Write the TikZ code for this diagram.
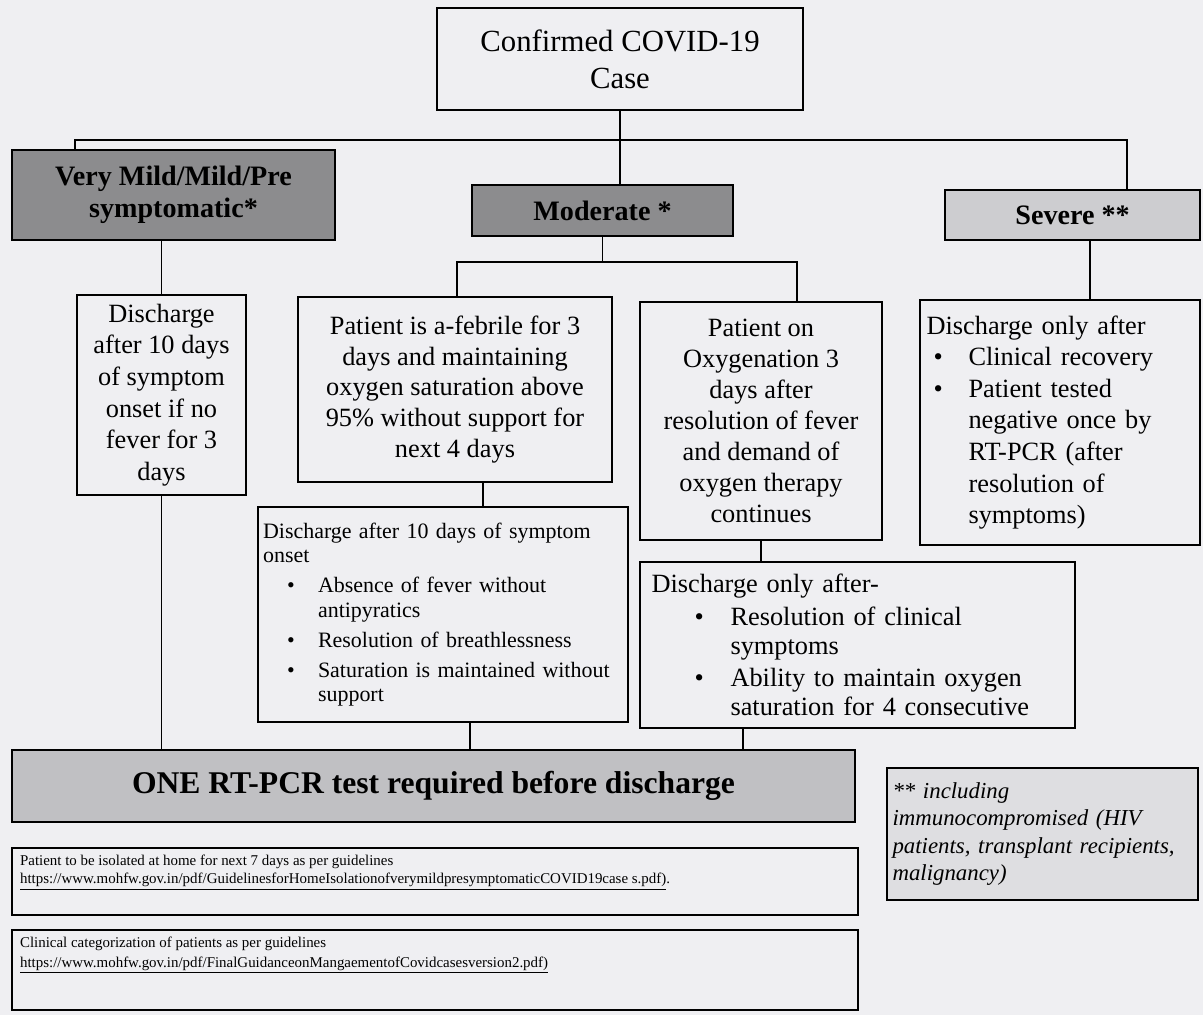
\documentclass[tikz,border=0pt]{standalone}
\usepackage{fontspec}
\setmainfont{Liberation Serif}
\usetikzlibrary{calc}
\definecolor{paper}{RGB}{239,239,242}
\definecolor{darkfill}{RGB}{140,140,142}
\definecolor{sevfill}{RGB}{205,205,208}
\definecolor{pcrfill}{RGB}{192,192,195}
\definecolor{notefill}{RGB}{222,222,225}
\tikzset{
  box/.style={draw, line width=1.3pt, inner sep=0pt, align=center, font=\fontsize{15}{17.6}\selectfont},
  headbox/.style={box, font=\bfseries\fontsize{16}{18.5}\selectfont},
  conn/.style={line width=0.7pt}
}
\def\bpt#1#2{\hspace*{#1}\makebox[#2][l]{\textbullet}}

\begin{document}
\begin{tikzpicture}[x=0.02cm, y=-0.02cm]
			%%%%% START %%%%%
			\useasboundingbox (0,0) rectangle (1203,1015);
			\fill[paper] (0,0) rectangle (1203,1015);
			
			% top
			\node[box, minimum width=7.32cm, minimum height=2.04cm, font=\fontsize{17.5}{21}\selectfont] (top) at (620,59) {Confirmed COVID-19\\Case};
			
			% categories
			\node[headbox, fill=darkfill, minimum width=6.46cm, minimum height=1.8cm] (vm) at (173.5,195) {Very Mild/Mild/Pre\\symptomatic*};
			\node[headbox, fill=darkfill, minimum width=5.22cm, minimum height=1.02cm] (mod) at (602.5,210.5) {Moderate *};
			\node[headbox, fill=sevfill, minimum width=5.1cm, minimum height=1.0cm] (sev) at (1072.5,215) {Severe **};
			
			% criteria
			\node[box, minimum width=3.38cm, minimum height=4.0cm, font=\fontsize{15}{18}\selectfont] (dis1) at (161.5,395) {Discharge\\after 10 days\\of symptom\\onset if no\\fever for 3\\days};
			\node[box, minimum width=6.28cm, minimum height=3.7cm] (afeb) at (455,389.5) {Patient is a-febrile for 3\\days and maintaining\\oxygen saturation above\\95\% without support for\\next 4 days};
			\node[box, minimum width=4.84cm, minimum height=4.76cm] (oxy) at (761,421) {Patient on\\Oxygenation 3\\days after\\resolution of fever\\and demand of\\oxygen therapy\\continues};
			\node[box, align=left, text width=5.34cm, inner xsep=0.13cm, minimum height=4.9cm, font=\fontsize{15}{18}\selectfont] (sevdis) at (1060,422.5) {Discharge only after\\
				\bpt{0.14cm}{0.7cm}Clinical recovery\\
				\bpt{0.14cm}{0.7cm}Patient tested\\
				\hspace*{0.84cm}negative once by\\
				\hspace*{0.84cm}RT-PCR (after\\
				\hspace*{0.84cm}resolution of\\
				\hspace*{0.84cm}symptoms)};
			
			% discharge
			\node[box, align=left, text width=7.2cm, inner xsep=0.1cm, minimum height=4.3cm, font=\fontsize{12.5}{14}\selectfont] (dis2) at (443,614.5) {Discharge after 10 days of symptom\\onset\\[3pt]
				\bpt{0.48cm}{0.62cm}Absence of fever without\\
				\hspace*{1.1cm}antipyratics\\[3pt]
				\bpt{0.48cm}{0.62cm}Resolution of breathlessness\\[3pt]
				\bpt{0.48cm}{0.62cm}Saturation is maintained without\\
				\hspace*{1.1cm}support};
			\node[box, align=left, text width=8.24cm, inner xsep=0.23cm, minimum height=3.32cm, font=\fontsize{15}{16.5}\selectfont] (dis3) at (857.5,645) {Discharge only after-\\[2pt]
				\bpt{0.86cm}{0.72cm}Resolution of clinical\\
				\hspace*{1.58cm}symptoms\\[2pt]
				\bpt{0.86cm}{0.72cm}Ability to maintain oxygen\\
				\hspace*{1.58cm}saturation for 4 consecutive};
			
			% test
			\node[box, fill=pcrfill, minimum width=16.86cm, minimum height=1.44cm, font=\bfseries\fontsize{18}{20}\selectfont] (rtpcr) at (433.5,786) {ONE RT-PCR test required before discharge};
			\node[box, fill=notefill, align=left, text width=6.0cm, inner xsep=0.11cm, minimum height=2.64cm, font=\itshape\fontsize{13}{15.5}\selectfont] (note) at (1042.5,834) {** including\\immunocompromised (HIV\\patients, transplant recipients,\\malignancy)};
			
			% references
			\node[box, minimum width=16.92cm, minimum height=1.34cm, font=\fontsize{8.5}{10.5}\selectfont] (ref1) at (435,881.5) {\parbox[c][1.2cm][t]{16.6cm}{\vspace{2pt}Patient to be isolated at home for next 7 days as per guidelines\\\underline{https://www.mohfw.gov.in/pdf/GuidelinesforHomeIsolationofverymildpresymptomaticCOVID19case s.pdf)}.}};
			\node[box, minimum width=16.92cm, minimum height=1.6cm, font=\fontsize{8.5}{11}\selectfont] (ref2) at (435,970) {\parbox[c][1.45cm][t]{16.6cm}{\vspace{2pt}Clinical categorization of patients as per guidelines\\\underline{https://www.mohfw.gov.in/pdf/FinalGuidanceonMangaementofCovidcasesversion2.pdf)}}};
			
			% connectors
			\coordinate (busL) at (75,140);
			\coordinate (busR) at (1127,140);
			\coordinate (mbL) at (457,262);
			\coordinate (mbR) at (797,262);
			\coordinate (sx) at (1090,0);
			\coordinate (ax) at (483,0);
			\coordinate (dx2) at (470,0);
			\coordinate (dx3) at (743,0);
			
			\draw[conn] (top.south) -- (top.south |- mod.north);
			\draw[conn] (vm.north -| busL) -- (busL) -- (busR) -- (sev.north -| busR);
			\draw[conn] (vm.south -| dis1.north) -- (dis1.north);
			\draw[conn] (mod.south) -- (mod.south |- mbL);
			\draw[conn] (afeb.north -| mbL) -- (mbL) -- (mbR) -- (oxy.north -| mbR);
			\draw[conn] (sev.south -| sx) -- (sevdis.north -| sx);
			\draw[conn] (afeb.south -| ax) -- (dis2.north -| ax);
			\draw[conn] (oxy.south) -- (oxy.south |- dis3.north);
			\draw[conn] (dis1.south) -- (dis1.south |- rtpcr.north);
			\draw[conn] (dis2.south -| dx2) -- (rtpcr.north -| dx2);
			\draw[conn] (dis3.south -| dx3) -- (rtpcr.north -| dx3);
			
			%%%%% END %%%%%
\end{tikzpicture}
\end{document}
